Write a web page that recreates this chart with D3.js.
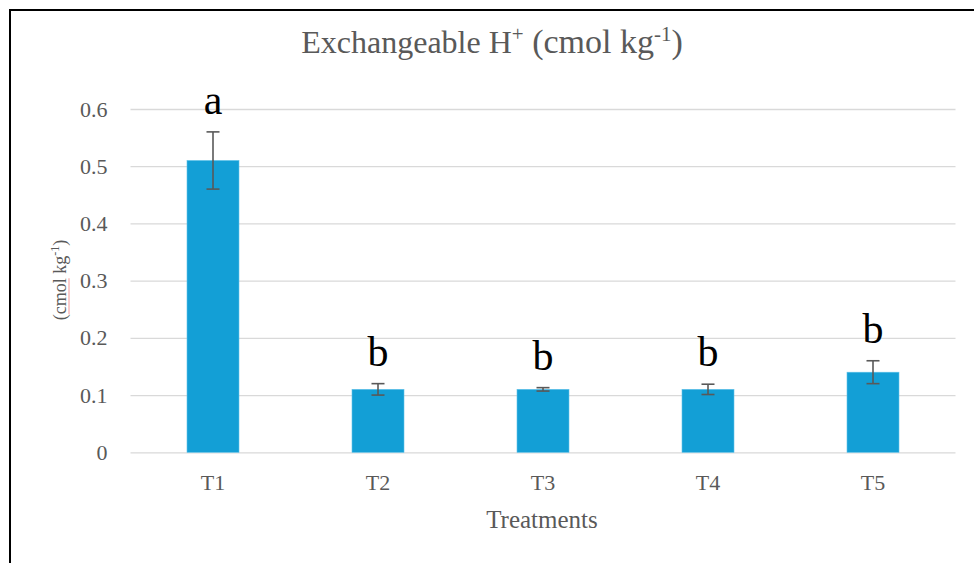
<!DOCTYPE html>
<html>
<head>
<meta charset="utf-8">
<script src="https://cdn.jsdelivr.net/npm/d3@7"></script>
<style>
  html, body { margin: 0; padding: 0; background: #fff; }
  svg { display: block; }
  text { font-family: "Liberation Serif", "Times New Roman", serif; }
</style>
</head>
<body>
<svg id="chart" width="974" height="563"></svg>
<script>
const categories = ["T1", "T2", "T3", "T4", "T5"];
const values = [0.51, 0.11, 0.11, 0.11, 0.14];
const errors = [0.05, 0.01, 0.003, 0.009, 0.02];
const letters = ["a", "b", "b", "b", "b"];
const yTicks = [0, 0.1, 0.2, 0.3, 0.4, 0.5, 0.6];
const xTitle = "Treatments";

const svg = d3.select("#chart");
const grey = "#595959";

// frame (top and left borders)
svg.append("line").attr("x1", 9).attr("x2", 974).attr("y1", 10).attr("y2", 10)
  .attr("stroke", "#000").attr("stroke-width", 2);
svg.append("line").attr("x1", 10).attr("x2", 10).attr("y1", 9).attr("y2", 563)
  .attr("stroke", "#000").attr("stroke-width", 2);

const x = d3.scaleBand().domain(categories).range([130.5, 955.5])
  .paddingInner(0.685).paddingOuter(0.3425);
const y = d3.scaleLinear().domain([0, 0.6]).range([452.3, 109]);

// y axis with gridlines
const yAxis = d3.axisLeft(y).tickValues(yTicks).tickFormat(d3.format("~g"))
  .tickSize(-(955.5 - 130.5)).tickPadding(23);
const gy = svg.append("g").attr("transform", "translate(130.5,0)").call(yAxis);
gy.select(".domain").remove();
gy.selectAll(".tick line").attr("stroke", "#d9d9d9").attr("stroke-width", 1.3);
gy.selectAll(".tick text").attr("fill", grey).attr("font-size", 22)
  .attr("font-family", "Liberation Serif");

// x axis labels
const xAxis = d3.axisBottom(x).tickSize(0).tickPadding(22);
const gx = svg.append("g").attr("transform", "translate(0,452.3)").call(xAxis);
gx.select(".domain").remove();
gx.selectAll(".tick text").attr("fill", grey).attr("font-size", 22)
  .attr("font-family", "Liberation Serif");

// bars
svg.append("g").selectAll("rect").data(categories).join("rect")
  .attr("x", d => x(d))
  .attr("y", (d, i) => y(values[i]))
  .attr("width", x.bandwidth())
  .attr("height", (d, i) => y(0) - y(values[i]))
  .attr("fill", "#139FD6")
  .attr("stroke", "#5cc0e8").attr("stroke-width", 0.6);

// error bars
const eg = svg.append("g").attr("stroke", grey).attr("stroke-width", 1.6);
categories.forEach((c, i) => {
  const cx = x(c) + x.bandwidth() / 2;
  const top = y(values[i] + errors[i]);
  const bot = y(values[i] - errors[i]);
  eg.append("line").attr("x1", cx).attr("x2", cx).attr("y1", top).attr("y2", bot);
  eg.append("line").attr("x1", cx - 6.5).attr("x2", cx + 6.5).attr("y1", top).attr("y2", top);
  eg.append("line").attr("x1", cx - 6.5).attr("x2", cx + 6.5).attr("y1", bot).attr("y2", bot);
});

// significance letters
svg.append("g").selectAll("text").data(categories).join("text")
  .attr("x", d => x(d) + x.bandwidth() / 2)
  .attr("y", (d, i) => y(values[i] + errors[i]) - 18)
  .attr("text-anchor", "middle")
  .attr("font-size", 42)
  .attr("fill", "#000")
  .text((d, i) => letters[i]);

// title
const title = svg.append("text").attr("x", 492).attr("y", 53)
  .attr("text-anchor", "middle").attr("font-size", 32).attr("fill", grey);
title.append("tspan").text("Exchangeable H");
title.append("tspan").attr("font-size", 21).attr("dy", -12).text("+");
title.append("tspan").attr("font-size", 34).attr("dy", 12).text(" (cmol kg");
title.append("tspan").attr("font-size", 21).attr("dy", -12).text("-1");
title.append("tspan").attr("font-size", 34).attr("dy", 12).text(")");

// x axis title
svg.append("text").attr("x", 542).attr("y", 528)
  .attr("text-anchor", "middle").attr("font-size", 25).attr("fill", grey)
  .text(xTitle);

// y axis title
const yt = svg.append("text").attr("transform", "translate(66,280) rotate(-90)")
  .attr("text-anchor", "middle").attr("font-size", 18).attr("fill", grey);
yt.append("tspan").text("(cmol kg");
yt.append("tspan").attr("font-size", 12).attr("dy", -7).text("-1");
yt.append("tspan").attr("font-size", 18).attr("dy", 7).text(")");
// spell-check underline under "cmol"
const node = yt.node();
const s = node.getStartPositionOfChar(1);
const e = node.getEndPositionOfChar(4);
svg.append("line").attr("transform", "translate(66,280) rotate(-90)")
  .attr("x1", s.x).attr("x2", e.x).attr("y1", 3).attr("y2", 3)
  .attr("stroke", "#f08080").attr("stroke-width", 0.8);
</script>
</body>
</html>
